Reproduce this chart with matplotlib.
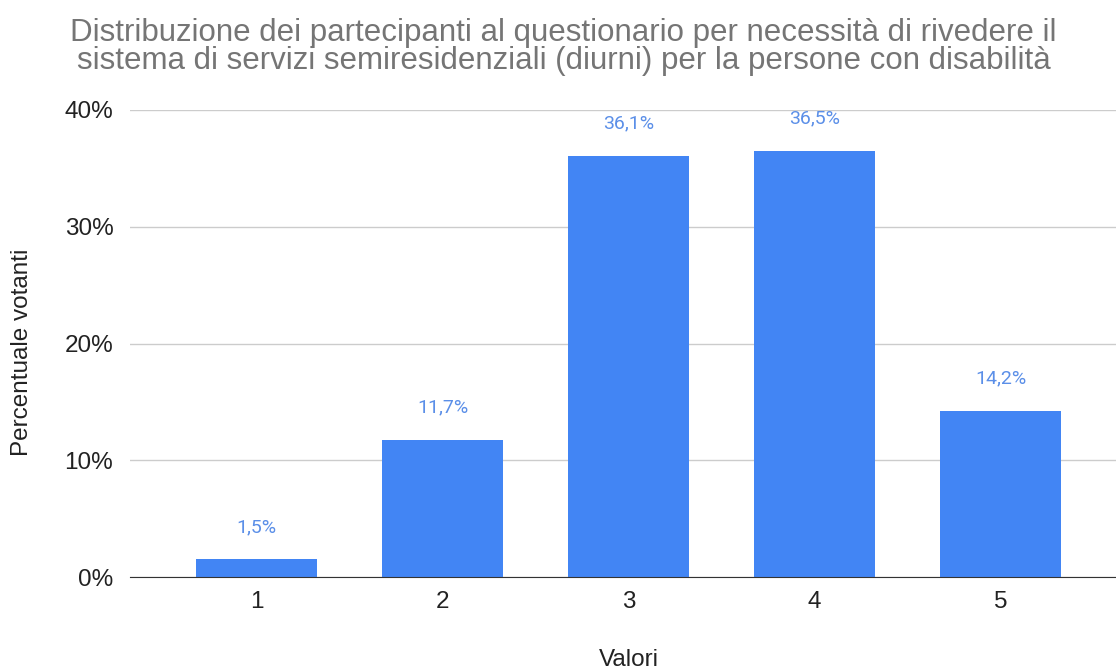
import matplotlib.pyplot as plt
from matplotlib.ticker import FuncFormatter

valori = ["1", "2", "3", "4", "5"]
percentuali = [1.5, 11.7, 36.1, 36.5, 14.2]
etichette = ["1,5%", "11,7%", "36,1%", "36,5%", "14,2%"]

plt.rcParams['font.family'] = ['Liberation Sans', 'DejaVu Sans']

fig = plt.figure(figsize=(11.16, 6.71), dpi=100)
ax = fig.add_axes([130 / 1116, 94 / 671, 986 / 1116, 467 / 671])

pos = list(range(len(valori)))
bars = ax.bar(pos, percentuali, width=0.65, color="#4285f4", zorder=3)
for b, lab in zip(bars, etichette):
    ax.annotate(lab, (b.get_x() + b.get_width() / 2, b.get_height()),
                xytext=(0, 17), textcoords="offset points",
                ha="center", va="bottom", fontsize=14, color="#5b8fe8",
                family=["Roboto", "DejaVu Sans"])

ax.set_xlim(-0.68, 4.62)
ax.set_ylim(0, 40)
ax.set_yticks([0, 10, 20, 30, 40])
ax.yaxis.set_major_formatter(FuncFormatter(lambda v, p: f"{int(v)}%"))
ax.set_xticks(pos)
ax.set_xticklabels(valori)
ax.grid(axis="y", color="#cccccc", linewidth=1, zorder=0)
for s in ["top", "right", "left"]:
    ax.spines[s].set_visible(False)
ax.spines["bottom"].set_color("#333333")
ax.spines["bottom"].set_zorder(4)
ax.tick_params(axis="both", length=0, labelsize=17.5, colors="#222222")
ax.tick_params(axis="y", pad=12)
ax.tick_params(axis="x", pad=10)

fig.text(629 / 1116, 1 - 660 / 671, "Valori", ha="center", va="center",
         fontsize=17.5, color="#222222")
fig.text(22 / 1116, 1 - 352 / 671, "Percentuale votanti", ha="center", va="center",
         rotation=90, fontsize=17.5, color="#222222")

fig.text(0.505, 1 - 47 / 671, "Distribuzione dei partecipanti al questionario per necessità di rivedere il\n"
         "sistema di servizi semiresidenziali (diurni) per la persone con disabilità",
         ha="center", va="center", fontsize=22.5, color="#757575", linespacing=0.95)

fig.savefig("out.png", dpi=100)
